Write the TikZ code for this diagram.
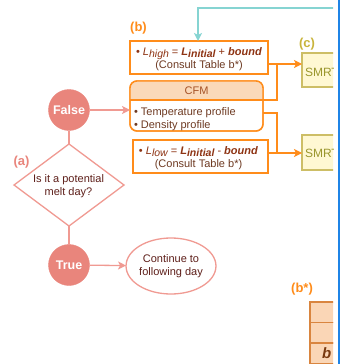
\documentclass[tikz,border=0pt]{standalone}
\usepackage{fontspec}
\setmainfont{Liberation Sans}
\usetikzlibrary{arrows.meta,shapes.geometric,calc}
\definecolor{orng}{HTML}{FF8C1A}
\definecolor{brn}{HTML}{8E3414}
\definecolor{brn2}{HTML}{6E3A22}
\definecolor{hdr}{HTML}{FAD9B9}
\definecolor{hdrtxt}{HTML}{A65328}
\definecolor{salm}{HTML}{E9857C}
\definecolor{salml}{HTML}{F09A92}
\definecolor{dred}{HTML}{5E1F1A}
\definecolor{olv}{HTML}{C9B43C}
\definecolor{smfill}{HTML}{FFF8D3}
\definecolor{smdraw}{HTML}{CDBE66}
\definecolor{smtxt}{HTML}{9A962C}
\definecolor{tealc}{HTML}{86D4D2}
\definecolor{bluel}{HTML}{1F84E6}
\definecolor{cellf}{HTML}{FAD6B6}
\definecolor{celld}{HTML}{D9853F}
\definecolor{celltxt}{HTML}{7A3A10}
\newcommand{\subtx}[1]{\raisebox{-0.45ex}{\fontsize{10.5}{10.5}\selectfont #1}}
\begin{document}
\begin{tikzpicture}[x=1pt,y=-1pt,
  every node/.style={inner sep=0pt, outer sep=0pt, font=\fontsize{11}{13}\selectfont},
  obox/.style={draw=orng, line width=1.4pt, fill=white},
  conn/.style={draw=orng, line width=1.4pt},
  tip/.style={-{Stealth[length=8pt,width=8pt,inset=2pt]}},
  lbl/.style={font=\fontsize{13}{13}\selectfont\bfseries},
  circ/.style={circle, fill=salm, draw=salm, text=white, minimum size=41pt, font=\fontsize{12.5}{13}\selectfont\bfseries},
  sline/.style={draw=salml, line width=1.3pt},
  smrtbox/.style={draw=smdraw, fill=smfill, line width=1.4pt, minimum width=62pt, anchor=west},
  smrttxt/.style={text=smtxt, font=\fontsize{12}{13}\selectfont, anchor=west},
  cell/.style={draw=celld, fill=cellf, line width=1.1pt, minimum width=50pt, minimum height=20.5pt, anchor=north west},
]
\useasboundingbox (0,0) rectangle (345,364);
\begin{scope}
\clip (0,0) rectangle (333,364);
% labels
\node[lbl, text=orng] (lb) at (138.5,28) {(b)};
\node[lbl, text=olv] (lc) at (307,44.5) {(c)};
\node[lbl, text=salm] (la) at (21.5,162) {(a)};
\node[lbl, text=orng] (lbs) at (302,289) {(b*)};
% Lhigh box
\node[obox, minimum width=138pt, minimum height=33pt] (lhigh) at (199,57.5) {};
\node[align=center, text=brn] (lhight) at (199,59) {• \textit{L\subtx{high}} = \textbf{\textit{L\subtx{initial}}} + \textbf{\textit{bound}}\\ {\color{brn2}(Consult Table b*)}};
% CFM box
\node[obox, minimum width=133pt, minimum height=50pt, rounded corners=7pt] (cfm) at (196.5,106) {};
\begin{scope}
\clip[rounded corners=7pt] (cfm.north west) rectangle (cfm.south east);
\fill[hdr] (cfm.north west) rectangle ($(cfm.north east)+(0,19)$);
\end{scope}
\draw[orng, line width=1.4pt] ($(cfm.north west)+(0,19)$) -- ($(cfm.north east)+(0,19)$);
\draw[orng, line width=1.4pt, rounded corners=7pt] (cfm.north west) rectangle (cfm.south east);
\node[text=hdrtxt] (cfmh) at (196.5,90.5) {CFM};
\node[anchor=base west, text=brn2] (cfm1) at (134,115) {• Temperature profile};
\node[anchor=base west, text=brn2] (cfm2) at (134,128) {• Density profile};
% Llow box
\node[obox, minimum width=135pt, minimum height=33pt] (llow) at (200.5,156.5) {};
\node[align=center, text=brn] (llowt) at (198.5,158) {• \textit{L\subtx{low}} = \textbf{\textit{L\subtx{initial}}} - \textbf{\textit{bound}}\\ {\color{brn2}(Consult Table b*)}};
% SMRT boxes
\node[smrtbox, minimum height=34pt] (smrt1) at (302,70) {};
\node[smrttxt] (smrt1t) at (305,72) {SMRT};
\node[smrtbox, minimum height=35pt] (smrt2) at (302,152.5) {};
\node[smrttxt] (smrt2t) at (305,153) {SMRT};
% flow (a)
\node[circ] (false) at (69,110) {False};
\node[diamond, draw=salml, line width=1.3pt, fill=white, minimum width=110pt, minimum height=82pt, aspect=1.34] (dia) at (69,185) {};
\node[align=center, text=dred] (diat) at (68.5,186) {Is it a potential\\melt day?};
\node[circ] (true) at (69,265) {True};
\node[ellipse, draw=salml, line width=1.3pt, fill=white, minimum width=84pt, minimum height=56pt, align=center, text=dred] (cont) at (171,266) {Continue to\\following day};
% table b*
\node[cell] (r1) at (310,302) {};
\node[cell] (r2) at (310,322.5) {};
\node[cell] (r3) at (310,343) {};
\node[anchor=west, text=celltxt, font=\fontsize{15}{15}\selectfont\bfseries\itshape] (r3t) at (322,353.5) {b};
% connectors
\coordinate (j1) at (277,64);
\coordinate (h1) at (277,100);
\coordinate (j2) at (277,113);
\coordinate (j3) at (277,153);
\draw[conn] (lhigh.east |- j1) -- (j1);
\draw[conn, tip] (j1) -- (smrt1.west |- j1);
\draw[conn] (cfm.east |- h1) -- (h1) -- (j1);
\draw[conn] (cfm.east |- j2) -- (j2) -- (j3);
\draw[conn] (llow.east |- j3) -- (j3);
\draw[conn, tip] (j3) -- (smrt2.west |- j3);
\coordinate (tr) at (334,8);
\coordinate (tc) at (198,8);
\draw[tealc, line width=1.4pt, tip] (tr) -- (tc) -- (lhigh.north -| tc);
\draw[sline, tip] (false.east) -- (cfm.west |- false);
\draw[sline] (false) -- (dia);
\draw[sline] (dia) -- (true);
\draw[sline, tip] (true) -- (cont);
\end{scope}
\coordinate (bt) at (339,0);
\coordinate (bb) at (339,364);
\draw[bluel, line width=1.5pt] (bt) -- (bb);
\end{tikzpicture}
\end{document}
